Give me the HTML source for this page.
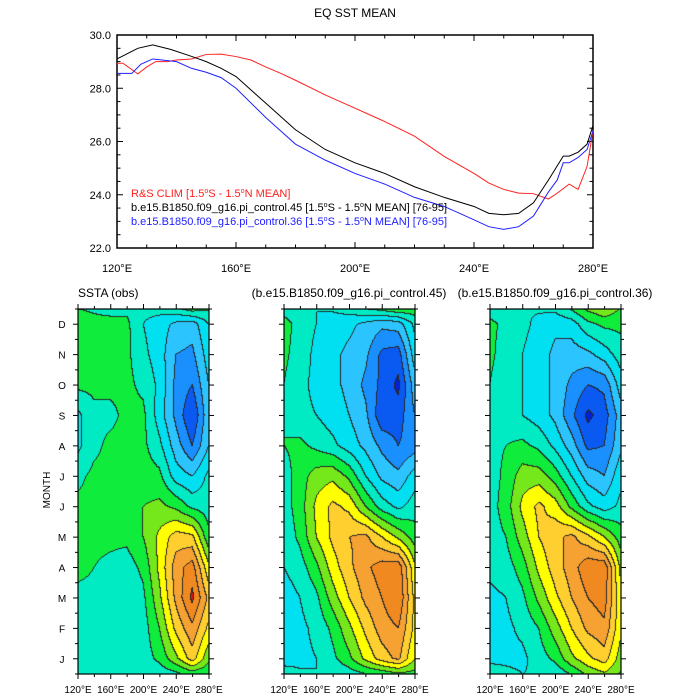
<!DOCTYPE html>
<html><head><meta charset="utf-8"><style>
body{margin:0;background:#fff;}
#wrap{position:relative;width:700px;height:700px;font-family:"Liberation Sans",sans-serif;}
canvas{position:absolute;}
svg{position:absolute;left:0;top:0;}
</style></head><body>
<div id="wrap">
<canvas id="c0"></canvas>
<canvas id="c1"></canvas>
<canvas id="c2"></canvas>
<svg id="s" width="700" height="700"></svg>
</div>
<script>
// ---- top chart data ----
const blackLon=[120,127,132,138,145,150,155,160,170,180,190,200,210,220,230,240,245,250,255,260,265,270,272,275,278,280];
const blackSST=[29.1,29.5,29.63,29.46,29.2,29.0,28.75,28.44,27.44,26.44,25.7,25.2,24.8,24.3,23.9,23.56,23.3,23.25,23.3,23.7,24.55,25.45,25.45,25.6,25.9,26.6];
const blueLon=[120,125,128,132,140,145,150,155,160,170,180,190,200,210,220,230,240,245,250,255,260,265,268,270,272,275,278,280];
const blueSST=[28.56,28.56,28.9,29.1,29.0,28.75,28.6,28.4,28.0,26.9,25.9,25.3,24.8,24.4,23.9,23.56,23.06,22.8,22.7,22.8,23.2,24.1,24.56,25.2,25.2,25.4,25.7,26.4];
const redLon=[120,122,125,127,130,133,137,140,145,150,155,160,165,170,175,180,190,200,205,210,220,230,240,245,250,255,260,265,268,272,275,278,280];
const redSST=[28.94,28.94,28.7,28.54,28.8,29.0,29.0,29.06,29.1,29.27,29.28,29.19,29.06,28.8,28.56,28.3,27.75,27.25,27.0,26.75,26.2,25.44,24.8,24.44,24.2,24.06,24.04,23.84,24.06,24.4,24.2,25.06,26.4];
const yTicks=[22,24,26,28,30];
const xTicks=[120,160,200,240,280];
// ---- bottom panels data (rows Jan..Dec, cols lons) ----
const lons=[120,140,160,180,200,220,240,260,280];
const months=["J","F","M","A","M","J","J","A","S","O","N","D"];
const obsSSTA=[
[-0.2,-0.2,-0.3,-0.3,-0.2,0.1,0.7,1.4,0.5],
[-0.2,-0.2,-0.3,-0.3,-0.2,0.4,1.3,1.9,1.1],
[-0.1,-0.1,-0.2,-0.3,-0.1,0.7,1.7,2.5,1.5],
[0.1,0,-0.1,-0.2,0.1,0.9,1.8,2.2,0.9],
[0.2,0.1,0.1,0.1,0.4,0.9,1.4,1.3,0.1],
[0.1,0.1,0.1,0.2,0.4,0.5,0.3,-0.1,-0.2],
[-0.1,0.1,0.1,0.1,0.2,0.1,-0.6,-0.8,-0.3],
[-0.5,-0.1,0.1,0.1,0.1,-0.3,-1.0,-1.6,-0.8],
[-0.5,-0.1,-0.1,0.1,0.1,-0.6,-1.3,-2.0,-0.9],
[0.1,0.1,0.1,0.1,-0.1,-0.5,-1.3,-1.6,-0.8],
[0.3,0.1,0.1,0.1,-0.3,-0.6,-1.2,-1.3,-0.6],
[0.2,0.1,0.1,0.1,-0.4,-0.6,-0.9,-1.0,-0.4]];
const ctl45SSTA=[
[-0.6,-0.5,-0.4,-0.1,0.3,0.9,1.4,1.7,0.8],
[-0.7,-0.5,-0.3,0.1,0.7,1.3,1.8,2.0,1.1],
[-0.6,-0.4,-0.1,0.6,1.2,1.7,2.0,2.4,1.1],
[-0.4,-0.2,0.3,1.0,1.5,1.9,2.2,2.3,0.9],
[-0.3,0.1,0.8,1.3,1.6,1.7,1.2,0.7,0.2],
[-0.2,0.2,0.9,1.3,1.1,0.4,-0.2,-0.5,-0.2],
[-0.2,0.2,0.6,0.7,0.3,-0.4,-0.9,-1.1,-0.6],
[0,0.1,-0.1,-0.3,-0.6,-0.9,-1.3,-1.6,-1.4],
[0,-0.3,-0.4,-0.6,-0.8,-1.1,-1.9,-1.8,-1.2],
[0,-0.3,-0.5,-0.7,-0.9,-1.3,-1.7,-2.1,-1.0],
[0.1,-0.2,-0.5,-0.7,-0.9,-1.1,-1.7,-1.8,-0.6],
[0.2,-0.2,-0.4,-0.6,-0.7,-0.9,-1.1,-1.0,-0.3]];
const ctl36SSTA=[
[-0.5,-0.5,-0.5,-0.2,0.1,0.7,1.1,1.4,0.6],
[-0.6,-0.5,-0.3,0,0.6,1.2,1.7,1.9,0.9],
[-0.5,-0.4,-0.1,0.5,1.1,1.6,2.0,2.2,0.9],
[-0.3,-0.2,0.2,0.9,1.4,1.8,2.3,2.3,0.7],
[-0.2,0,0.6,1.2,1.5,1.7,1.3,0.8,0.2],
[-0.2,0.2,0.9,1.3,1.0,0.3,-0.3,-0.6,-0.3],
[-0.2,0.1,0.6,0.6,0.2,-0.4,-1.0,-1.2,-0.5],
[-0.1,0,0.1,-0.1,-0.5,-1.0,-1.7,-1.6,-0.9],
[-0.1,-0.2,-0.4,-0.6,-0.9,-1.5,-2.1,-1.8,-1.0],
[0,-0.3,-0.4,-0.6,-0.9,-1.3,-1.6,-1.5,-0.6],
[0.1,-0.2,-0.4,-0.6,-0.9,-1.0,-0.9,-0.6,-0.2],
[0.1,-0.1,-0.3,-0.5,-0.7,-0.6,-0.1,0.1,0.1]];
const levels=[-2,-1.6,-1.2,-0.8,-0.4,0,0.4,0.8,1.2,1.6,2.0,2.4];
const levelColors=["#0020dd","#0a5af2","#1a90ff","#2cc4ff","#00e0f0","#00ebc4","#10ec3c","#74e81a","#ffff00","#ffcf30","#f6a232","#f08a20","#e81010"];

const NS="http://www.w3.org/2000/svg";
const svg=document.getElementById('s');
function mk(tag,attrs,name,parent){const e=document.createElementNS(NS,tag);for(const k in attrs)e.setAttribute(k,attrs[k]);


(parent||svg).appendChild(e);return e;}
function txt(x,y,s,name,size,anchor,fill){const t=mk('text',{x:x,y:y,'font-size':size,'text-anchor':anchor||'middle',fill:fill||'#000','font-family':'Liberation Sans, sans-serif'},name);t.textContent=s;return t;}

// ---- top chart ----
const T={l:117,r:593,t:35,b:248,x0:120,x1:280,y0:22,y1:30};
const tx=v=>T.l+(v-T.x0)/(T.x1-T.x0)*(T.r-T.l);
const ty=v=>T.b-(v-T.y0)/(T.y1-T.y0)*(T.b-T.t);
txt(355,17,"EQ SST MEAN","top-chart-title",12);
mk('rect',{x:T.l,y:T.t,width:T.r-T.l,height:T.b-T.t,fill:'none',stroke:'#000','stroke-width':1.5},'top-plot-frame');
for(let v=22;v<=30.001;v+=0.5){const maj=Math.abs(v%2)<1e-6;const L=maj?6:3.5;
 mk('line',{x1:T.l,x2:T.l+L,y1:ty(v),y2:ty(v),stroke:'#000','stroke-width':1},'y-tick');
 mk('line',{x1:T.r,x2:T.r-L,y1:ty(v),y2:ty(v),stroke:'#000','stroke-width':1},'y-tick-right');}
for(let v=120;v<=280;v+=10){const maj=(v-120)%40==0;const L=maj?6:3.5;
 mk('line',{x1:tx(v),x2:tx(v),y1:T.b,y2:T.b-L,stroke:'#000','stroke-width':1},'x-tick');
 mk('line',{x1:tx(v),x2:tx(v),y1:T.t,y2:T.t+L,stroke:'#000','stroke-width':1},'x-tick-top');}
yTicks.forEach(v=>txt(T.l-6,ty(v)+4,v.toFixed(1),'y-tick-label',11,'end'));
xTicks.forEach(v=>{const t=txt(tx(v),T.b+24,v+"°E",'x-tick-label',11);});
function line(lx,ly,color,name){mk('polyline',{points:lx.map((x,i)=>tx(x)+','+ty(ly[i])).join(' '),fill:'none',stroke:color,'stroke-width':1},name);}
line(redLon,redSST,'#ff2020','rs-clim-line');
line(blackLon,blackSST,'#000','control45-line');
line(blueLon,blueSST,'#2020ff','control36-line');
function legTxt(y,parts,fill,name){const t=mk('text',{x:131,y:y,'font-size':11,fill:fill,'font-family':'Liberation Sans, sans-serif'},name);
 parts.forEach(p=>{const s=document.createElementNS(NS,'tspan');if(p[1]){s.setAttribute('dy',-4);s.setAttribute('font-size',7);}else if(p[2]){s.setAttribute('dy',4);}s.textContent=p[0];t.appendChild(s);});}
const seg=(a)=>[[a+"[1.5"],["o",1],["S - 1.5",0,1],["o",1],["N MEAN]",0,1]];
legTxt(197,seg("R&S CLIM "),'#ff2020','legend-rs-clim');
legTxt(211,seg("b.e15.B1850.f09_g16.pi_control.45 ").concat([[" [76-95]"]]),'#000','legend-control45');
legTxt(225,seg("b.e15.B1850.f09_g16.pi_control.36 ").concat([[" [76-95]"]]),'#2020ff','legend-control36');

// ---- bottom panels ----
const P=[{l:78,data:obsSSTA,title:"SSTA (obs)",tx:78,anchor:'start'},
 {l:284,data:ctl45SSTA,title:"(b.e15.B1850.f09_g16.pi_control.45)",tx:349,anchor:'middle'},
 {l:490,data:ctl36SSTA,title:"(b.e15.B1850.f09_g16.pi_control.36)",tx:555,anchor:'middle'}];
const PW=131,PT=309,PB=674,PH=PB-PT;
function lvl(v){let i=0;while(i<levels.length&&v>=levels[i])i++;return i;}
function hex(c){return[parseInt(c.substr(1,2),16),parseInt(c.substr(3,2),16),parseInt(c.substr(5,2),16)];}
const rgb=levelColors.map(hex);
P.forEach((p,pi)=>{
 const cv=document.getElementById('c'+pi);cv.width=PW;cv.height=PH;cv.style.left=p.l+'px';cv.style.top=PT+'px';
 const ctx=cv.getContext('2d');const img=ctx.createImageData(PW,PH);
 const idx=new Int16Array(PW*PH);
 for(let py=0;py<PH;py++){
  let m=(PH-py-0.5)/(PH/12)-0.5;let m0=Math.floor(m);let fm=m-m0;
  const r0=p.data[(m0+12)%12],r1=p.data[(m0+13)%12];
  for(let px=0;px<PW;px++){
   const lon=120+(px+0.5)/PW*160;let c=(lon-120)/20;let c0=Math.min(7,Math.floor(c));let fc=c-c0;
   const a=r0[c0]*(1-fc)+r0[c0+1]*fc,b=r1[c0]*(1-fc)+r1[c0+1]*fc;
   idx[py*PW+px]=lvl(a*(1-fm)+b*fm);}}
 for(let py=0;py<PH;py++)for(let px=0;px<PW;px++){
  const k=py*PW+px,i=idx[k];let col=rgb[i];
  if((px<PW-1&&idx[k+1]!=i)||(py<PH-1&&idx[k+PW]!=i))col=[40,40,40];
  img.data[k*4]=col[0];img.data[k*4+1]=col[1];img.data[k*4+2]=col[2];img.data[k*4+3]=255;}
 ctx.putImageData(img,0,0);
 mk('rect',{x:p.l,y:PT,width:PW,height:PH,fill:'none',stroke:'#000','stroke-width':1.2},'panel-frame');
 txt(p.tx,297,p.title,'panel-title',12,p.anchor);
 const px=v=>p.l+(v-120)/160*PW;
 for(let v=120;v<=280;v+=20){const maj=(v-120)%40==0;
  mk('line',{x1:px(v),x2:px(v),y1:PB,y2:PB+(maj?5:3),stroke:'#000'},'x-tick');
  mk('line',{x1:px(v),x2:px(v),y1:PT,y2:PT-(maj?5:3),stroke:'#000'},'x-tick-top');
  if(maj)txt(px(v),693,v+"°E",'x-tick-label',10);}
 for(let k=0;k<=24;k++){const y=PB-k*PH/24;const maj=k%2==1;
  mk('line',{x1:p.l,x2:p.l-(maj?5:3),y1:y,y2:y,stroke:'#000'},'y-tick');
  mk('line',{x1:p.l+PW,x2:p.l+PW+(maj?5:3),y1:y,y2:y,stroke:'#000'},'y-tick-right');}
 if(pi==0){months.forEach((m,i)=>txt(62,PB-(i+0.5)*PH/12+4,m,'month-label',10));
  const t=txt(0,0,"MONTH",'y-axis-title',10);t.setAttribute('transform','translate(50,490) rotate(-90)');}
});
</script>
</body></html>
